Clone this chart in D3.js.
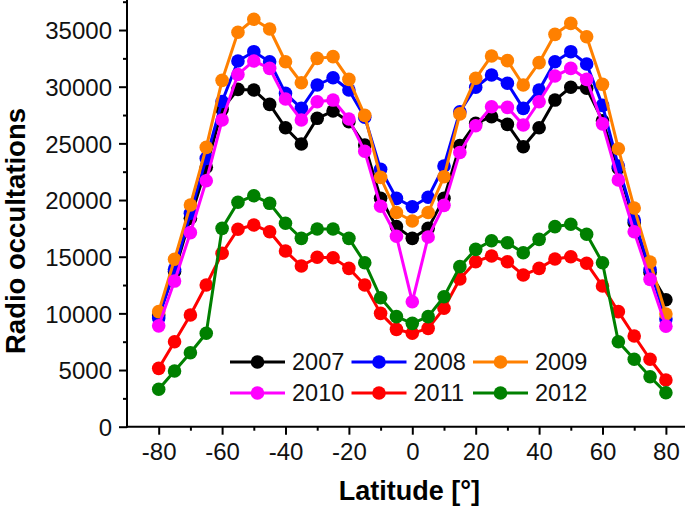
<!DOCTYPE html>
<html><head><meta charset="utf-8">
<script src="https://cdn.jsdelivr.net/npm/d3@7"></script>
<style>body{margin:0;background:#fff}svg{display:block}</style>
</head><body>
<svg id="c" width="685" height="511"></svg>
<script>
const latitudes = [-80,-75,-70,-65,-60,-55,-50,-45,-40,-35,-30,-25,-20,-15,-10,-5,0,5,10,15,20,25,30,35,40,45,50,55,60,65,70,75,80];
const years = ["2007","2008","2009","2010","2011","2012"];
const colors = ["#000000","#0000ff","#ff8000","#ff00ff","#ff0000","#008000"];
const v2007 = [9860,13700,18400,22900,28000,29760,29710,28440,26380,24940,27210,27850,26910,24850,20150,17650,16620,17500,20150,24800,26770,27350,26680,24700,26380,28820,29950,29860,27000,22800,18000,13600,11200];
const v2008 = [9600,13900,18830,23680,28700,32270,33090,32200,29410,28090,30150,30790,29710,27300,22710,20150,19410,20240,23000,27790,29950,31030,30300,28090,29710,32200,33090,32000,28350,23000,18240,13860,9500];
const v2009 = [10150,14770,19560,24650,30560,34800,35950,35090,32200,30350,32500,32650,30650,27470,22000,18900,18150,18900,22050,27600,30740,32710,32300,30150,32120,34620,35590,34410,30210,24530,19300,14530,9940];
const v2010 = [8900,12850,17120,21700,27060,31080,32270,31620,28910,27060,28670,28820,27150,24300,19450,16800,11030,16740,19530,24200,26560,28230,28180,26620,28670,30940,31620,30650,26720,21770,17200,13000,8870];
const v2011 = [5150,7500,9860,12500,15300,17420,17800,17200,15500,14180,14950,14910,13970,12500,10000,8590,8240,8680,10450,13030,14560,15060,14560,13380,13970,14800,15000,14420,12410,10150,8000,5950,4120];
const v2012 = [3300,4910,6530,8240,17500,19800,20380,19710,17950,16620,17440,17440,16620,14470,11380,9710,9120,9710,11470,14120,15650,16410,16230,15350,16530,17650,17860,16980,14470,7500,5950,4410,3000];
const seriesValues = [v2007,v2008,v2009,v2010,v2011,v2012];
const xMajorTicks = [-80,-60,-40,-20,0,20,40,60,80];
const xMinorTicks = [-70,-50,-30,-10,10,30,50,70];
const yMajorTicks = [0,5000,10000,15000,20000,25000,30000,35000];
const yMinorTicks = [2500,7500,12500,17500,22500,27500,32500,37500];

const svg = d3.select("#c");
const font = "'Liberation Sans', Arial, sans-serif";
const x = d3.scaleLinear().domain([-90, 90]).range([127, 697.6]);
const y = d3.scaleLinear().domain([0, 37650]).range([426.7, 0]);
const fmt = d => String(d);

// axes
const gx = svg.append("g").attr("transform", `translate(0,${y(0)})`);
gx.call(d3.axisBottom(x).tickValues(xMajorTicks).tickSize(8).tickPadding(8).tickFormat(fmt))
  .call(g => g.select(".domain").remove());
gx.append("g").call(d3.axisBottom(x).tickValues(xMinorTicks).tickSize(4).tickFormat(""))
  .call(g => g.select(".domain").remove());
gx.append("line").attr("x1", x(-90)).attr("x2", 685).attr("stroke", "#000").attr("stroke-width", 2);

const gy = svg.append("g").attr("transform", `translate(${x(-90)},0)`);
gy.call(d3.axisLeft(y).tickValues(yMajorTicks).tickSize(8).tickPadding(7).tickFormat(fmt))
  .call(g => g.select(".domain").remove());
gy.append("g").call(d3.axisLeft(y).tickValues(yMinorTicks).tickSize(4).tickFormat(""))
  .call(g => g.select(".domain").remove());
gy.append("line").attr("y1", 0).attr("y2", y(0) + 1).attr("stroke", "#000").attr("stroke-width", 2);

svg.selectAll(".tick line").attr("stroke", "#000").attr("stroke-width", 2);
svg.selectAll(".tick text").attr("font-family", font).attr("font-size", 24).attr("fill", "#111");
gy.selectAll(".tick text").attr("dy", "0.36em");

// titles
svg.append("text").attr("x", x(0) - 3).attr("y", 500).attr("text-anchor", "middle")
  .attr("font-family", font).attr("font-weight", "bold").attr("font-size", 27).text("Latitude [°]");
svg.append("text").attr("transform", "translate(25,231) rotate(-90)").attr("text-anchor", "middle")
  .attr("font-family", font).attr("font-weight", "bold").attr("font-size", 27.5).text("Radio occultations");

// series
const line = d3.line().x((d, i) => x(latitudes[i])).y(d => y(d));
seriesValues.forEach((vals, k) => {
  const g = svg.append("g");
  g.append("path").datum(vals).attr("d", line).attr("fill", "none")
    .attr("stroke", colors[k]).attr("stroke-width", 3).attr("stroke-linejoin", "round");
  g.selectAll("circle").data(vals).join("circle")
    .attr("cx", (d, i) => x(latitudes[i])).attr("cy", d => y(d)).attr("r", 6.8).attr("fill", colors[k]);
});

// legend
const legX = [230, 351.5, 473], legY = [362, 393];
years.forEach((yr, k) => {
  const lx = legX[k % 3], ly = legY[Math.floor(k / 3)];
  const g = svg.append("g");
  g.append("line").attr("x1", lx).attr("x2", lx + 55).attr("y1", ly).attr("y2", ly)
    .attr("stroke", colors[k]).attr("stroke-width", 3);
  g.append("circle").attr("cx", lx + 27.5).attr("cy", ly).attr("r", 6.8).attr("fill", colors[k]);
  g.append("text").attr("x", lx + 62).attr("y", ly).attr("dy", "0.36em")
    .attr("font-family", font).attr("font-size", 23.5).attr("fill", "#111").text(yr);
});
</script>
</body></html>
